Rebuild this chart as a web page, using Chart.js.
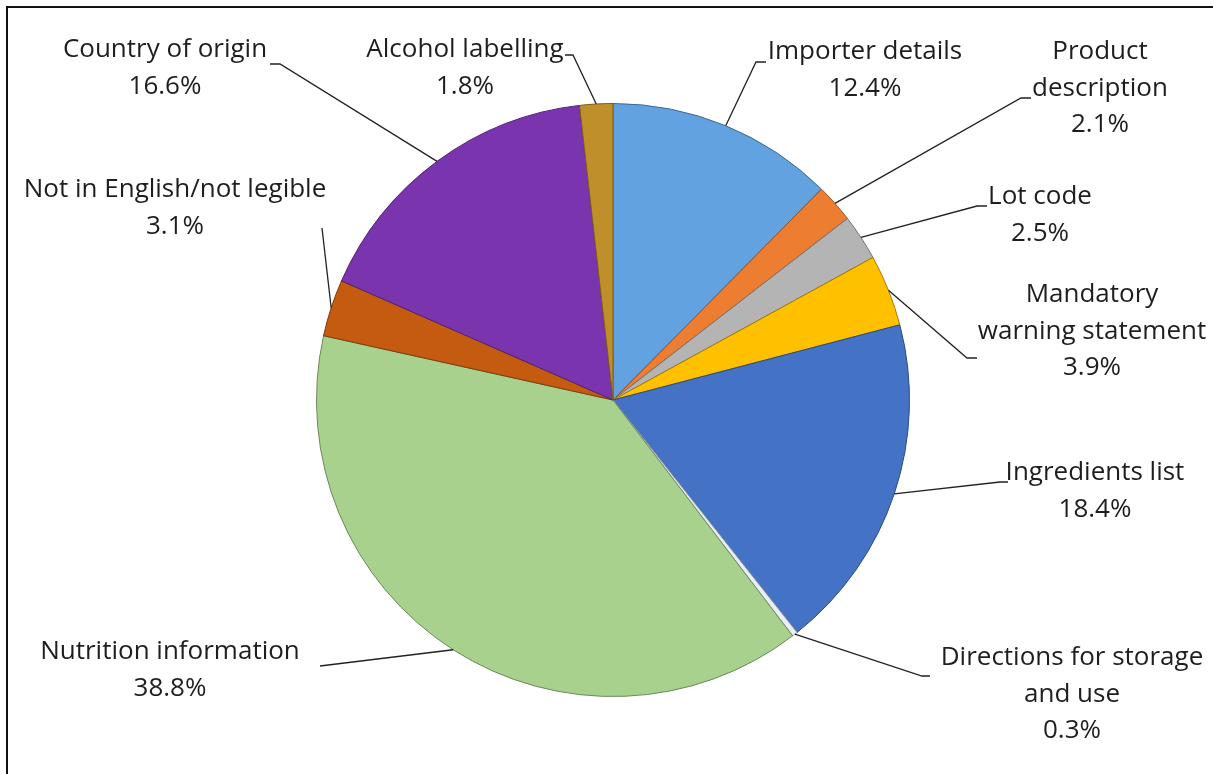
<!DOCTYPE html>
<html>
<head>
<meta charset="utf-8">
<script src="https://cdn.jsdelivr.net/npm/chart.js@4"></script>
<style>
  html, body { margin: 0; padding: 0; background: #fff; }
  #wrap { position: relative; width: 1213px; height: 774px; }
</style>
</head>
<body>
<div id="wrap"><canvas id="labelling-pie" width="1213" height="774"></canvas></div>
<script>
// Labelling issues, share of all non-compliances (%)
const categories = [
    'Importer details',
    ['Product', 'description'],
    'Lot code',
    ['Mandatory', 'warning statement'],
    'Ingredients list',
    ['Directions for storage', 'and use'],
    'Nutrition information',
    'Not in English/not legible',
    'Country of origin',
    'Alcohol labelling'
];
const shares = [12.4, 2.1, 2.5, 3.9, 18.4, 0.3, 38.8, 3.1, 16.6, 1.8];
const sliceColors = ['#62a2e0', '#ed7d31', '#b4b4b4', '#ffc000', '#4472c4',
                     '#e8eef4', '#a9d18e', '#c55a11', '#7a35ae', '#bf8f2a'];

// where each label sits: text centre (x, first line y), end of its leader line and the little tick
const labelSpots = [
    { x: 865,  y: 52,  ex: 756, ey: 62,  tick: 10 },
    { x: 1100, y: 52,  ex: 1021, ey: 98, tick: 10 },
    { x: 1040, y: 197, ex: 977, ey: 206, tick: 10 },
    { x: 1092, y: 295, ex: 967, ey: 358, tick: 10 },
    { x: 1095, y: 473, ex: 1000, ey: 482, tick: 8 },
    { x: 1072, y: 658, ex: 922, ey: 676, tick: 8 },
    { x: 170,  y: 652, ex: 320, ey: 666, tick: 0 },
    { x: 175,  y: 190, ex: 322, ey: 228, tick: 0 },
    { x: 165,  y: 50,  ex: 280, ey: 64,  tick: -10 },
    { x: 465,  y: 50,  ex: 573, ey: 55,  tick: -8 }
];

function shade(hex, amt) {
    const n = parseInt(hex.slice(1), 16);
    let r = n >> 16, g = (n >> 8) & 255, b = n & 255;
    const f = c => Math.round(amt >= 0 ? c + (255 - c) * amt : c * (1 + amt));
    return `rgb(${f(r)}, ${f(g)}, ${f(b)})`;
}

// soft bevel: lighter toward the middle, darker rim
function sliceFill(ctx) {
    const base = sliceColors[ctx.dataIndex];
    const arc = ctx.element;
    if (!arc || !arc.outerRadius) return base;
    const c = ctx.chart.ctx;
    const g = c.createRadialGradient(arc.x, arc.y, 0, arc.x, arc.y, arc.outerRadius);
    g.addColorStop(0, shade(base, 0.12));
    g.addColorStop(0.8, base);
    g.addColorStop(0.96, base);
    g.addColorStop(1, shade(base, -0.3));
    return g;
}

const frame = {
    id: 'frame',
    beforeDraw(chart) {
        const c = chart.ctx;
        c.save();
        c.fillStyle = '#fff';
        c.fillRect(0, 0, chart.width, chart.height);
        c.strokeStyle = '#111';
        c.lineWidth = 2;
        c.strokeRect(7, 7, chart.width + 20, chart.height + 20);
        c.restore();
    }
};

const calloutLabels = {
    id: 'calloutLabels',
    afterDatasetsDraw(chart) {
        const c = chart.ctx;
        const arcs = chart.getDatasetMeta(0).data;
        c.save();
        c.strokeStyle = '#222';
        c.lineWidth = 1.3;
        c.fillStyle = '#1e1e1e';
        c.font = '26px "Open Sans", Lato, sans-serif';
        c.textAlign = 'center';
        c.textBaseline = 'middle';
        arcs.forEach((arc, i) => {
            const spot = labelSpots[i];
            const mid = (arc.startAngle + arc.endAngle) / 2;
            const ax = arc.x + arc.outerRadius * Math.cos(mid);
            const ay = arc.y + arc.outerRadius * Math.sin(mid);
            c.beginPath();
            c.moveTo(ax, ay);
            c.lineTo(spot.ex, spot.ey);
            if (spot.tick) c.lineTo(spot.ex + spot.tick, spot.ey);
            c.stroke();

            const name = chart.data.labels[i];
            const lines = (Array.isArray(name) ? name.slice() : [name]);
            lines.push(chart.data.datasets[0].data[i].toFixed(1) + '%');
            lines.forEach((t, k) => c.fillText(t, spot.x, spot.y + k * 36.5));
        });
        c.restore();
    }
};

new Chart(document.getElementById('labelling-pie'), {
    type: 'pie',
    data: {
        labels: categories,
        datasets: [{
            data: shares,
            backgroundColor: sliceFill,
            borderColor: sliceColors.map(col => shade(col, -0.35)),
            borderWidth: 1
        }]
    },
    options: {
        responsive: false,
        animation: false,
        layout: { padding: { left: 13, right: 0, top: 103, bottom: 77 } },
        plugins: {
            legend: { display: false },
            tooltip: { enabled: false }
        }
    },
    plugins: [frame, calloutLabels]
});
</script>
</body>
</html>
